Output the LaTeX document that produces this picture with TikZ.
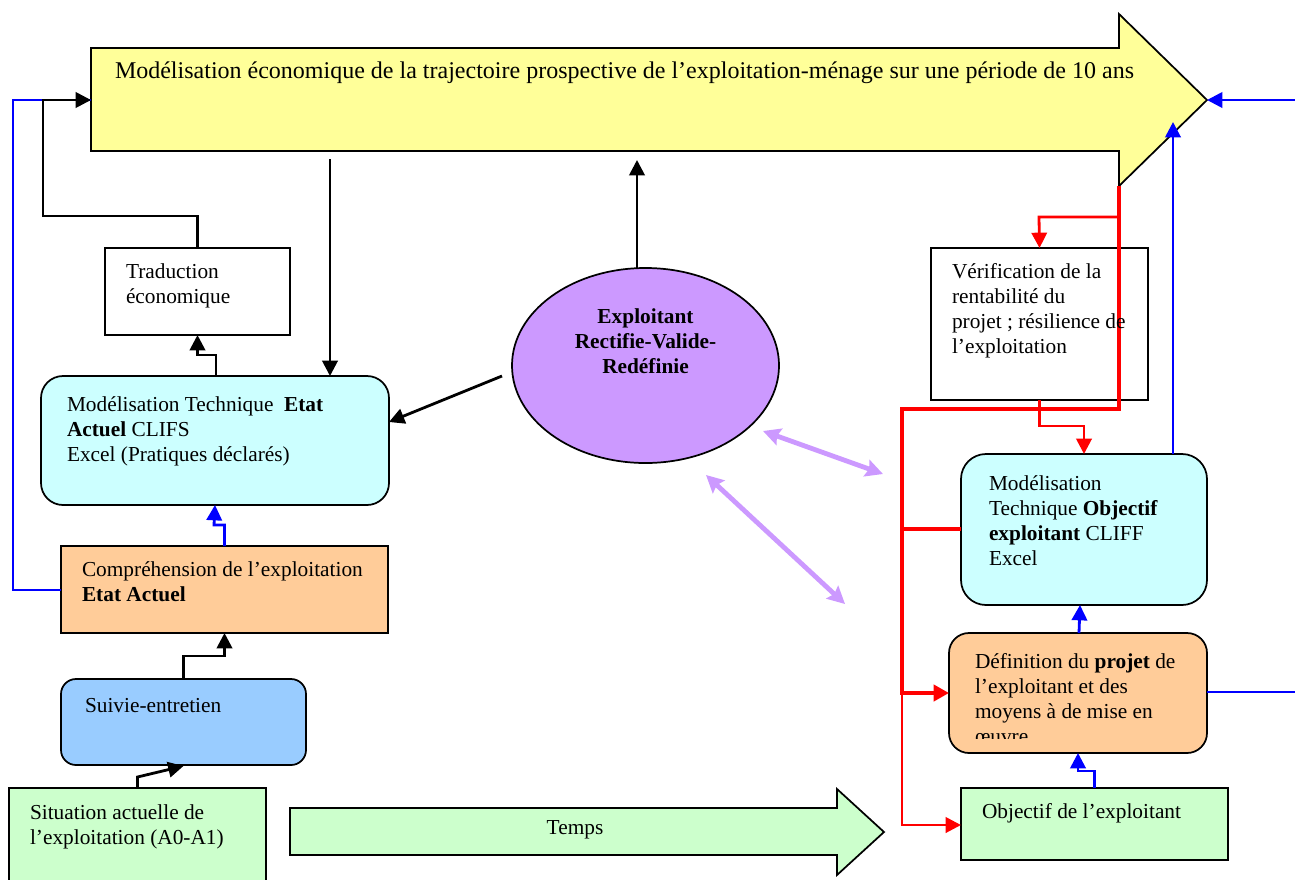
\documentclass[tikz,border=0pt]{standalone}
\usepackage{fontspec}
\setmainfont{Liberation Serif}
\usetikzlibrary{arrows.meta,calc,shapes.geometric}
\definecolor{cyanbox}{HTML}{CCFFFF}
\definecolor{orangebox}{HTML}{FFCC99}
\definecolor{greenbox}{HTML}{CCFFCC}
\definecolor{bluebox}{HTML}{99CCFF}
\definecolor{yellowarrow}{HTML}{FFFF99}
\definecolor{lilac}{HTML}{CC99FF}
\definecolor{linkred}{HTML}{FF0000}
\definecolor{linkblue}{HTML}{0000FF}
\tikzset{
  x=0.75pt,y=-0.75pt,
  wh/.style 2 args={minimum width=#1*0.75pt,minimum height=#2*0.75pt},
  boxbase/.style={draw=black,line width=1.3pt,inner sep=0pt,outer sep=0pt,rectangle},
  rbox/.style={boxbase,rounded corners=#1*0.75pt},
  label/.style={anchor=north west,inner sep=0pt,outer sep=0pt,align=left,font=\fontsize{16pt}{18.75pt}\selectfont},
  clabel/.style={anchor=north,inner sep=0pt,outer sep=0pt,align=center,font=\fontsize{16pt}{18.75pt}\selectfont},
  tip/.style={-{Triangle[length=11.5pt,width=11.5pt]}},
  blk/.style={draw=black,line width=2.1pt,line join=miter},
  blu/.style={draw=linkblue,line width=2.1pt,line join=miter},
  redthin/.style={draw=linkred,line width=2.1pt,line join=miter},
  redthick/.style={draw=linkred,line width=3pt,line join=miter},
  lil/.style={draw=lilac,line width=3.6pt,{Stealth[length=13pt,width=13pt,inset=2pt]}-{Stealth[length=13pt,width=13pt,inset=2pt]}},
}
\begin{document}
\begin{tikzpicture}
\useasboundingbox (0,0) rectangle (1295,879);
\fill[white] (0,0) rectangle (1295,879);

% big arrows
\coordinate (yw) at (91,100);
\coordinate (yt) at (1207,100);
\coordinate (ytb) at (1119,186);
\draw[fill=yellowarrow,line width=1.3pt,line join=miter] (91,48) -- (1119,48) -- (1119,14) -- (yt) -- (ytb) -- (1119,151) -- (91,151) -- cycle;
\draw[fill=greenbox,line width=1.3pt] (290,808) -- (837,808) -- (837,789) -- (884,832) -- (837,875) -- (837,855) -- (290,855) -- cycle;

% boxes
\node[boxbase,fill=white,wh={185}{87}] (trad) at (197.5,291.5) {};
\node[rbox=22,fill=cyanbox,wh={348}{129}] (mt) at (215,440.5) {};
\node[boxbase,fill=orangebox,wh={327}{87}] (comp) at (224.5,589.5) {};
\node[rbox=15,fill=bluebox,wh={245}{86}] (suiv) at (183.5,722) {};
\node[boxbase,fill=greenbox,wh={257}{112}] (sit) at (137.5,844) {};
\node[boxbase,fill=white,wh={217}{152}] (verif) at (1039.5,324) {};
\node[rbox=25,fill=cyanbox,wh={246}{151}] (mo) at (1084,529.5) {};
\node[rbox=20,fill=orangebox,wh={258}{120}] (def) at (1078,693) {};
\node[boxbase,fill=greenbox,wh={267}{72}] (obj) at (1094.5,824) {};
\node[ellipse,draw=black,line width=1.3pt,fill=lilac,inner sep=0pt,outer sep=0pt,wh={267}{195}] (expl) at (645.5,365.5) {};

% free ends
\coordinate (re) at (1295,100);
\coordinate (rd) at (1295,692);
\coordinate (ya) at (330,159);
\coordinate (ye) at (637,160);
\coordinate (ex) at (502,376);
\coordinate (jt) at (1173,122);
\coordinate (l1a) at (763,431);
\coordinate (l1b) at (883,474);
\coordinate (l2a) at (706,475);
\coordinate (l2b) at (845,604);
\coordinate (rj) at (1119,217);
\coordinate (rv) at (902,409);
\coordinate (rm) at (902,529);
\coordinate (rd2) at (902,693);

% blue connectors
\draw[blu] (comp.west |- 0,590) -- (13,590) -- (13,100) -- (yw);
\draw[blu,tip] (comp.north) -- (224.5,525) -- (214,525) -- (mt.south);
\draw[blu,tip] (mo.north -| jt) -- (jt);
\draw[blu,tip] (re) -- (yt);
\draw[blu] (def.east |- rd) -- (rd);
\draw[blu,tip] ($(def.north)+(1,0)$) -- ($(mo.south)+(-4,0)$);
\draw[blu,tip] (obj.north) -- (1094.5,771) -- (1078,771) -- (def.south);

% black connectors
\draw[blk,tip] (trad.north) -- (197.5,216) -- (43,216) -- (43,100) -- (yw);
\draw[blk,tip] (ya) -- (mt.north -| ya);
\draw[blk,tip] (expl.north -| ye) -- (ye);
\draw[blk,tip] (ex) -- (389,422);
\draw[blk,tip] ($(mt.north)+(1,0)$) -- (216,355) -- (197.5,355) -- (trad.south);
\draw[blk,tip] (suiv.north) -- (183.5,656) -- (224.5,656) -- (comp.south);
\draw[blk,tip] (sit.north) -- (137.5,777) -- (183.5,766);

% lilac double arrows
\draw[lil] (l1a) -- (l1b);
\draw[lil] (l2a) -- (l2b);

% red connectors
\draw[redthin,tip] (rj) -- (1039,217) -- (verif.north);
\draw[redthin,tip] (verif.south) -- (1039.5,426) -- (1084,426) -- (mo.north);
\draw[redthin,tip] (rd2) -- (902,825) -- (obj.west |- 0,825);
\draw[redthick,-{Triangle[length=11.5pt,width=12pt]}] (ytb) -- (1119,409) -- (rv) -- (rd2) -- (def.west |- rd2);
\draw[redthick] (rm) -- (mo.west |- rm);

% texts
\node[label,font=\fontsize{18pt}{18.75pt}\selectfont] (ytext) at (115,61) {\strut Modélisation économique de la trajectoire prospective de l’exploitation-ménage sur une période de 10 ans};
\node[label] (ttext) at (126,260.5) {\strut Traduction\\\strut économique};
\node[label] (mttext) at (67,393.5) {\strut Modélisation Technique\ \ \textbf{Etat}\\\strut \textbf{Actuel} CLIFS\\\strut Excel (Pratiques déclarés)};
\node[label] (ctext) at (82,558.5) {\strut Compréhension de l’exploitation\\\strut \textbf{Etat Actuel}};
\node[label] (stext) at (85,694.5) {\strut Suivie-entretien};
\node[label] (sitext) at (30,801.5) {\strut Situation actuelle de\\\strut l’exploitation (A0-A1)};
\node[clabel] (ttemps) at (575,816.5) {\strut Temps};
\node[label] (vtext) at (952,260.5) {\strut Vérification de la\\\strut rentabilité du\\\strut projet ; résilience de\\\strut l’exploitation};
\node[clabel] (etext) at (645.5,306) {\strut\textbf{Exploitant}\\\strut\textbf{Rectifie-Valide-}\\\strut\textbf{Redéfinie}};
\node[label] (motext) at (989,472.5) {\strut Modélisation\\\strut Technique \textbf{Objectif}\\\strut \textbf{exploitant} CLIFF\\\strut Excel};
\begin{scope}
\clip (960,640) rectangle (1200,738);
\node[label] (dtext) at (975,650.5) {\strut Définition du \textbf{projet} de\\\strut l’exploitant et des\\\strut moyens à de mise en\\\strut œuvre};
\end{scope}
\node[label] (otext) at (982,800.5) {\strut Objectif de l’exploitant};
\end{tikzpicture}
\end{document}
